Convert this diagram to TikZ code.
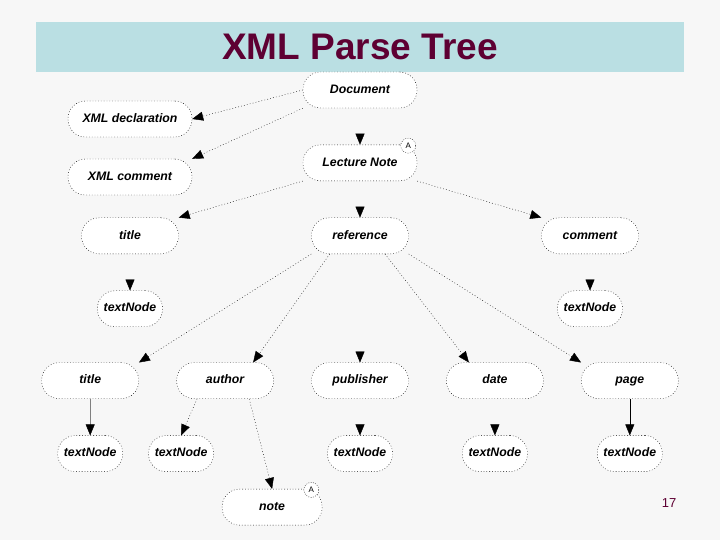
\documentclass[tikz,border=0pt]{standalone}
\usepackage{fontspec}
\setsansfont{Liberation Sans}
\usetikzlibrary{positioning, arrows.meta}
\definecolor{slidebg}{HTML}{F7F7F7}
\definecolor{bannerblue}{HTML}{BADFE3}
\definecolor{titlered}{HTML}{5E0033}

\begin{document}
\begin{tikzpicture}[x=1pt, y=-1pt,
      xnode/.style={
         rectangle,
         rounded corners=17.5pt,
         draw=black,
         dash pattern=on 0.8pt off 2pt,
         fill=white,
         inner sep=0pt,
         minimum width=97pt,
         minimum height=36pt,
         text height=9pt,
         text depth=2.5pt,
         font=\sffamily\bfseries\itshape\fontsize{12.3}{14}\selectfont},
      xtext/.style={
         xnode,
         minimum width=65pt},
      amark/.style={
         circle,
         draw=black,
         dash pattern=on 0.8pt off 1.5pt,
         fill=white,
         inner sep=0pt,
         minimum size=15pt,
         font=\sffamily\fontsize{8}{8}\selectfont},
      myarrow/.style={-{Triangle[length=11pt,width=9pt,color=black,fill=black]}},
      link/.style={myarrow, dash pattern=on 0.8pt off 2.2pt},
      tiponly/.style={myarrow, draw=slidebg},
      node distance=36.5pt and 37.5pt
      ]
      \fill[slidebg] (0,0) rectangle (720,540);
      \useasboundingbox (0,0) rectangle (720,540);
      \node[fill=bannerblue, minimum width=648pt, minimum height=50pt, inner sep=0pt,
            text=titlered, font=\sffamily\bfseries\fontsize{37}{40}\selectfont] (banner) at (360,47) {XML Parse Tree};

      \node[xnode, minimum width=114pt] (doc) at (360,90) {Document};
      \node[xnode, minimum width=124pt] (decl) at (130,119) {XML declaration};
      \node[xnode, minimum width=124pt] (comm) at (130,177) {XML comment};
      \node[xnode, minimum width=114pt, below=of doc] (lec) {Lecture Note};
      \node[xnode, below=of lec, xshift=-230pt] (ttl) {title};
      \node[xnode, below=of lec] (ref) {reference};
      \node[xnode, below=of lec, xshift=230pt] (cmt) {comment};
      \node[xtext, below=of ttl] (ttltx) {textNode};
      \node[xtext, below=of cmt] (cmttx) {textNode};

      \node[xnode, below=108.5pt of ref] (pub) {publisher};
      \node[xnode, left=of pub] (auth) {author};
      \node[xnode, left=of auth] (titb) {title};
      \node[xnode, right=of pub] (date) {date};
      \node[xnode, right=of date] (page) {page};

      \node[xtext, below=of titb] (titbtx) {textNode};
      \node[xtext, below=of auth, xshift=-44pt] (authtx) {textNode};
      \node[xtext, below=of pub] (pubtx) {textNode};
      \node[xtext, below=of date] (datetx) {textNode};
      \node[xtext, below=of page] (pagetx) {textNode};
      \node[xnode, minimum width=100pt, below=90pt of auth, xshift=47pt] (note) {note};

      \node[amark] (leca) at ([xshift=-9pt, yshift=-1pt]lec.north east) {A};
      \node[amark] (notea) at ([xshift=-11pt, yshift=-1pt]note.north east) {A};

    \foreach \i/\j in {% start/end
      doc.west/decl.east,
      doc.south west/comm.north east,
      lec.south west/ttl.north east,
      lec.south east/cmt.north west,
      ref.south west/titb.north east,
      ref.211/auth.33,
      ref.324/date.145,
      ref.south east/page.north west,
      auth.213/authtx.north,
      auth.323/note.north}
       \draw [link] (\i) -- (\j);

    % only the heads show on these
    \foreach \i/\j in {doc/lec, lec/ref, ttl/ttltx, cmt/cmttx, ref/pub, pub/pubtx, date/datetx}
       \draw [tiponly] (\i.south) -- (\j.north);

    \draw [myarrow, draw=gray] (titb) -- (titbtx);
    \draw [myarrow] (page) -- (pagetx);

    \node[text=titlered, font=\sffamily\fontsize{13}{15}\selectfont] (pagenum) at (669,503) {17};
    \end{tikzpicture}
\end{document}
